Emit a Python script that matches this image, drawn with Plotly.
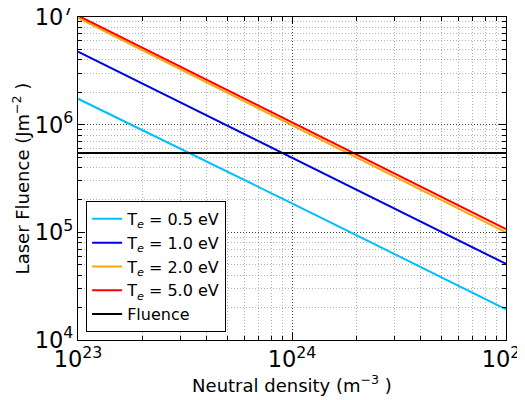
import plotly.graph_objects as go

density = [1e23, 1e24, 1e25]
te_05 = [1.74e6, 1.86e5, 1.93e4]
te_10 = [4.76e6, 4.93e5, 5.09e4]
te_20 = [0.98e7, 0.99e6, 1.0e5]
te_50 = [1.03e7, 1.05e6, 1.07e5]
fluence_x = [1e23, 1e25]
fluence = [5.46e5, 5.46e5]

series = [
    ("T<sub><i>e</i></sub> = 0.5 eV", te_05, "#00BFFF"),
    ("T<sub><i>e</i></sub> = 1.0 eV", te_10, "#0000E6"),
    ("T<sub><i>e</i></sub> = 2.0 eV", te_20, "#FFA500"),
    ("T<sub><i>e</i></sub> = 5.0 eV", te_50, "#FF0000"),
]

fig = go.Figure()
for i, (name, ys, col) in enumerate(series):
    fig.add_trace(go.Scatter(x=density, y=ys, mode="lines", name=name,
                             legendgroup=f"g{i}",
                             line=dict(color=col, width=2)))
fig.add_trace(go.Scatter(x=fluence_x, y=fluence, mode="lines", name="Fluence",
                         legendgroup="gf",
                         line=dict(color="black", width=2)))

font = "DejaVu Sans, sans-serif"
axis_common = dict(
    type="log", dtick=1, exponentformat="power", showline=True, linecolor="black",
    linewidth=1, mirror="ticks", ticks="inside", ticklen=7, tickcolor="black",
    showgrid=True, gridcolor="rgba(0,0,0,0.75)", griddash="1px,2px", gridwidth=1,
    tickfont=dict(size=18, color="black", family=font),
    ticklabeloverflow="allow", automargin=False,
    minor=dict(ticks="inside", ticklen=4, tickcolor="black", showgrid=True,
               gridcolor="rgba(0,0,0,0.3)", griddash="1px,2px", gridwidth=1),
    zeroline=False,
)

fig.update_xaxes(range=[23, 25], title=dict(text="Neutral density (m<sup>−3</sup> )",
                 font=dict(size=18, family=font, color="black"), standoff=5), **axis_common)
fig.update_yaxes(range=[4, 7], title=dict(text="Laser Fluence (Jm<sup>−2</sup> )",
                 font=dict(size=18, family=font, color="black"), standoff=0), **axis_common)

# page body has an 8px default margin, so the figure is shrunk/shifted to compensate
fig.update_layout(
    width=517, height=392,
    margin=dict(l=70, r=19, t=9, b=60),
    paper_bgcolor="white", plot_bgcolor="white",
    font=dict(family=font, color="black"),
    legend=dict(x=0.019, y=0.025, xanchor="left", yanchor="bottom",
                bordercolor="black", borderwidth=1, bgcolor="white",
                tracegroupgap=0,
                font=dict(size=16, family=font, color="black")),
)

fig.write_html("out.html")
